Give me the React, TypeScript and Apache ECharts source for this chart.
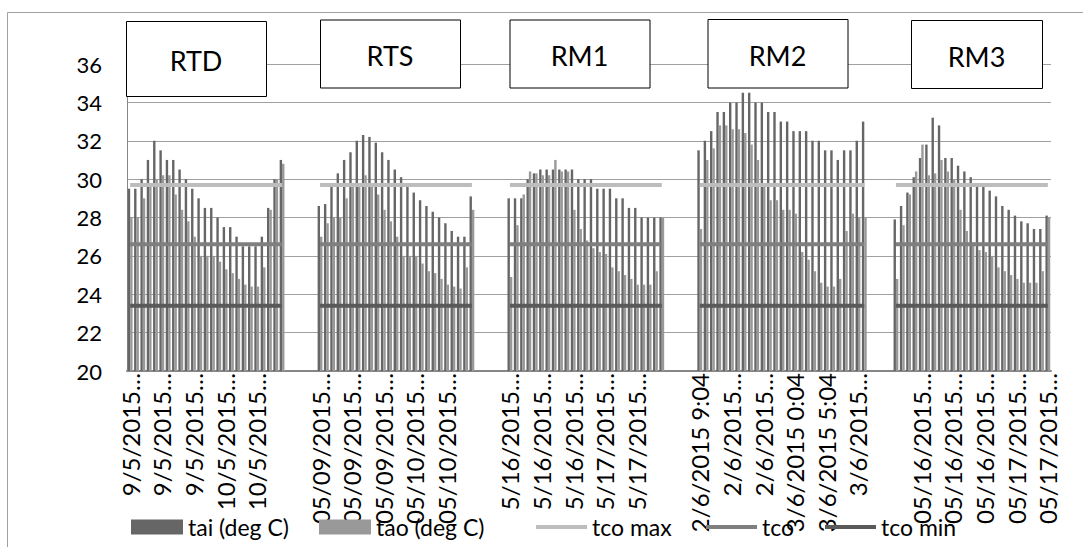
import React, { useEffect, useRef } from "react";
import * as echarts from "echarts";

// ---- data ----
const groupNames = ["RTD", "RTS", "RM1", "RM2", "RM3"];

const rtdTai = [29.5, 29.5, 30.0, 31.0, 32.0, 31.5, 31.0, 31.0, 30.5, 30.0, 29.5, 29.0, 28.5, 28.5, 28.0, 27.5, 27.5, 27.0, 26.5, 26.5, 26.5, 27.0, 28.5, 30.0, 31.0];
const rtdTao = [28.0, 28.0, 29.0, 29.8, 30.0, 30.2, 30.2, 29.2, 28.4, 27.8, 27.0, 26.0, 26.0, 26.0, 25.7, 25.3, 25.1, 24.8, 24.5, 24.4, 24.4, 25.4, 28.4, 30.0, 30.8];

const rtsTai = [28.6, 28.7, 29.6, 30.3, 31.0, 31.4, 32.0, 32.3, 32.2, 31.9, 31.4, 31.0, 30.5, 30.1, 29.6, 29.3, 28.9, 28.6, 28.3, 28.0, 27.7, 27.3, 27.0, 27.0, 29.1];
const rtsTao = [27.0, 27.7, 28.0, 28.0, 29.0, 29.6, 29.6, 30.2, 29.6, 29.2, 28.4, 27.8, 27.0, 26.0, 26.0, 26.0, 25.6, 25.2, 25.1, 24.8, 24.5, 24.4, 24.3, 25.4, 28.4];

const rm1Tai = [29.0, 29.0, 29.0, 30.0, 30.3, 30.5, 30.5, 30.5, 30.5, 30.5, 30.5, 30.0, 30.0, 30.0, 29.5, 29.5, 29.5, 29.0, 29.0, 28.5, 28.5, 28.0, 28.0, 28.0, 28.0];
const rm1Tao = [24.9, 27.6, 29.2, 30.4, 30.3, 30.2, 30.2, 31.0, 30.4, 30.4, 28.4, 27.4, 26.8, 26.4, 26.2, 26.1, 25.4, 25.2, 25.0, 24.8, 24.5, 24.5, 24.5, 25.2, 28.0];

const rm2Tai = [31.5, 32.0, 32.5, 33.5, 33.5, 34.0, 34.0, 34.5, 34.5, 34.0, 34.0, 33.5, 33.5, 33.0, 33.0, 32.5, 32.5, 32.5, 32.0, 32.0, 31.5, 31.5, 31.0, 31.5, 31.5, 32.0, 33.0];
const rm2Tao = [27.4, 31.0, 31.6, 32.8, 32.8, 32.6, 32.6, 32.4, 31.8, 31.0, 29.8, 28.9, 28.9, 28.4, 28.4, 28.2, 26.2, 25.8, 25.2, 24.6, 24.4, 24.4, 24.8, 27.3, 28.2, 28.0, 28.0];

const rm3Tai = [27.9, 28.6, 29.3, 30.1, 31.1, 31.8, 33.2, 32.8, 31.1, 31.1, 30.7, 30.4, 30.1, 29.8, 29.6, 29.4, 29.1, 28.6, 28.4, 28.1, 27.8, 27.7, 27.4, 27.4, 28.1];
const rm3Tao = [24.8, 27.6, 29.2, 30.4, 31.8, 30.2, 30.3, 31.0, 30.4, 30.0, 28.4, 27.3, 26.7, 26.3, 26.2, 26.0, 25.4, 25.2, 25.0, 24.8, 24.6, 24.6, 24.6, 25.2, 28.0];

// empty categories between consecutive groups
const gapAfter = [5, 5, 5, 4];

// reference temperatures per group (constant lines)
const tcoMaxByGroup = [29.7, 29.7, 29.7, 29.7, 29.7];
const tcoByGroup = [26.6, 26.6, 26.6, 26.6, 26.6];
const tcoMinByGroup = [23.4, 23.4, 23.4, 23.4, 23.4];

// x tick labels, one every 5 categories (as displayed, truncated)
const tickLabels = [
  "9/5/2015…", "9/5/2015…", "9/5/2015…", "10/5/2015…", "10/5/2015…",
  "",
  "05/09/2015…", "05/09/2015…", "05/09/2015…", "05/10/2015…", "05/10/2015…",
  "",
  "5/16/2015…", "5/16/2015…", "5/16/2015…", "5/17/2015…", "5/17/2015…",
  "",
  "2/6/2015 9:04", "2/6/2015…", "2/6/2015…", "3/6/2015 0:04", "3/6/2015 5:04", "3/6/2015…",
  "",
  "05/16/2015…", "05/16/2015…", "05/16/2015…", "05/17/2015…", "05/17/2015…",
];
const labelStep = 5;

const seriesNames = ["tai (deg C)", "tao (deg C)", "tco max", "tco", "tco min"];

// ---- build full category-length arrays ----
const taiGroups = [rtdTai, rtsTai, rm1Tai, rm2Tai, rm3Tai];
const taoGroups = [rtdTao, rtsTao, rm1Tao, rm2Tao, rm3Tao];

function joinGroups(groups: (number | null)[][]): (number | null)[] {
  const out: (number | null)[] = [];
  groups.forEach((g, i) => {
    out.push(...g);
    if (i < gapAfter.length) for (let k = 0; k < gapAfter[i]; k++) out.push(null);
  });
  return out;
}
const perGroup = (vals: number[]) => joinGroups(taiGroups.map((g, i) => g.map(() => vals[i])));

const taiData = joinGroups(taiGroups);
const taoData = joinGroups(taoGroups);
const tcoMaxData = perGroup(tcoMaxByGroup);
const tcoData = perGroup(tcoByGroup);
const tcoMinData = perGroup(tcoMinByGroup);
const categories = taiData.map((_, i) => (i % labelStep === 0 ? tickLabels[i / labelStep] ?? "" : ""));

const FONT = "Lato";

export default function App() {
  const ref = useRef<HTMLDivElement>(null);
  useEffect(() => {
    if (!ref.current) return;
    const chart = echarts.init(ref.current, undefined, { renderer: "svg" });
    const legendBase = {
      top: 513,
      padding: 0,
      itemGap: 0,
      selectedMode: false as const,
      textStyle: { fontSize: 23, color: "#000", fontFamily: FONT, lineHeight: 28 },
    };
    const boxes = [
      { x: 126, y: 21, w: 140, h: 75 },
      { x: 320, y: 19.5, w: 140, h: 68 },
      { x: 509.5, y: 19.5, w: 140, h: 68 },
      { x: 707.5, y: 19, w: 140, h: 68.5 },
      { x: 911, y: 20, w: 131, h: 68 },
    ];
    chart.setOption({
      animation: false,
      backgroundColor: "#fff",
      textStyle: { fontFamily: FONT },
      grid: { left: 127, right: 32, top: 64, bottom: 176, containLabel: false, outerBoundsMode: "none" },
      xAxis: {
        type: "category",
        data: categories,
        boundaryGap: true,
        axisLine: { lineStyle: { color: "#868686", width: 2 } },
        axisTick: { show: false },
        axisLabel: { interval: labelStep - 1, rotate: 90, margin: 2, fontSize: 24, color: "#000", fontFamily: FONT },
        splitLine: { show: false },
      },
      yAxis: {
        type: "value",
        min: 20,
        max: 36,
        interval: 2,
        axisLine: { show: true, lineStyle: { color: "#868686", width: 1 } },
        axisTick: { show: false },
        axisLabel: { fontSize: 22, color: "#000", margin: 25, fontFamily: FONT },
        splitLine: { lineStyle: { color: "#a0a0a0", width: 1 } },
      },
      legend: [
        { ...legendBase, left: 131, data: [seriesNames[0]], icon: "rect", itemWidth: 52, itemHeight: 15 },
        { ...legendBase, left: 319, data: [seriesNames[1]], icon: "rect", itemWidth: 52, itemHeight: 15 },
        { ...legendBase, left: 536, data: [seriesNames[2]], icon: "rect", itemWidth: 51, itemHeight: 4 },
        { ...legendBase, left: 706, data: [seriesNames[3]], icon: "rect", itemWidth: 51, itemHeight: 4 },
        { ...legendBase, left: 825, data: [seriesNames[4]], icon: "rect", itemWidth: 51, itemHeight: 4 },
      ],
      series: [
        { name: seriesNames[0], type: "bar", data: taiData, barWidth: 2.4, barGap: "0%", itemStyle: { color: "#666666" } },
        { name: seriesNames[1], type: "bar", data: taoData, barWidth: 2.4, barGap: "0%", itemStyle: { color: "#999999" } },
        { name: seriesNames[2], type: "line", data: tcoMaxData, symbol: "none", z: 5, lineStyle: { color: "#bdbdbd", width: 4 }, itemStyle: { color: "#bdbdbd" } },
        { name: seriesNames[3], type: "line", data: tcoData, symbol: "none", z: 5, lineStyle: { color: "#7f7f7f", width: 4 }, itemStyle: { color: "#7f7f7f" } },
        { name: seriesNames[4], type: "line", data: tcoMinData, symbol: "none", z: 5, lineStyle: { color: "#595959", width: 4 }, itemStyle: { color: "#595959" } },
      ],
      graphic: [
        {
          type: "rect",
          silent: true,
          z: -10,
          shape: { x: 7.5, y: 12.5, width: 1200, height: 700 },
          style: { fill: "none", stroke: "#a0a0a0", lineWidth: 1 },
        },
        ...boxes.map((b, i) => ({
          type: "group",
          z: 100,
          children: [
            { type: "rect", z: 100, shape: { x: b.x + 0.5, y: b.y + 0.5, width: b.w, height: b.h }, style: { fill: "#fff", stroke: "#000", lineWidth: 1 } },
            {
              type: "text",
              z: 101,
              x: b.x + b.w / 2,
              y: b.y + b.h / 2 + 2,
              style: { text: groupNames[i], fontSize: 27, fontFamily: FONT, fill: "#000", align: "center", verticalAlign: "middle" },
            },
          ],
        })),
      ],
    });
    return () => chart.dispose();
  }, []);
  return <div ref={ref} style={{ position: "fixed", left: 0, top: 0, width: 1083, height: 547 }} />;
}
